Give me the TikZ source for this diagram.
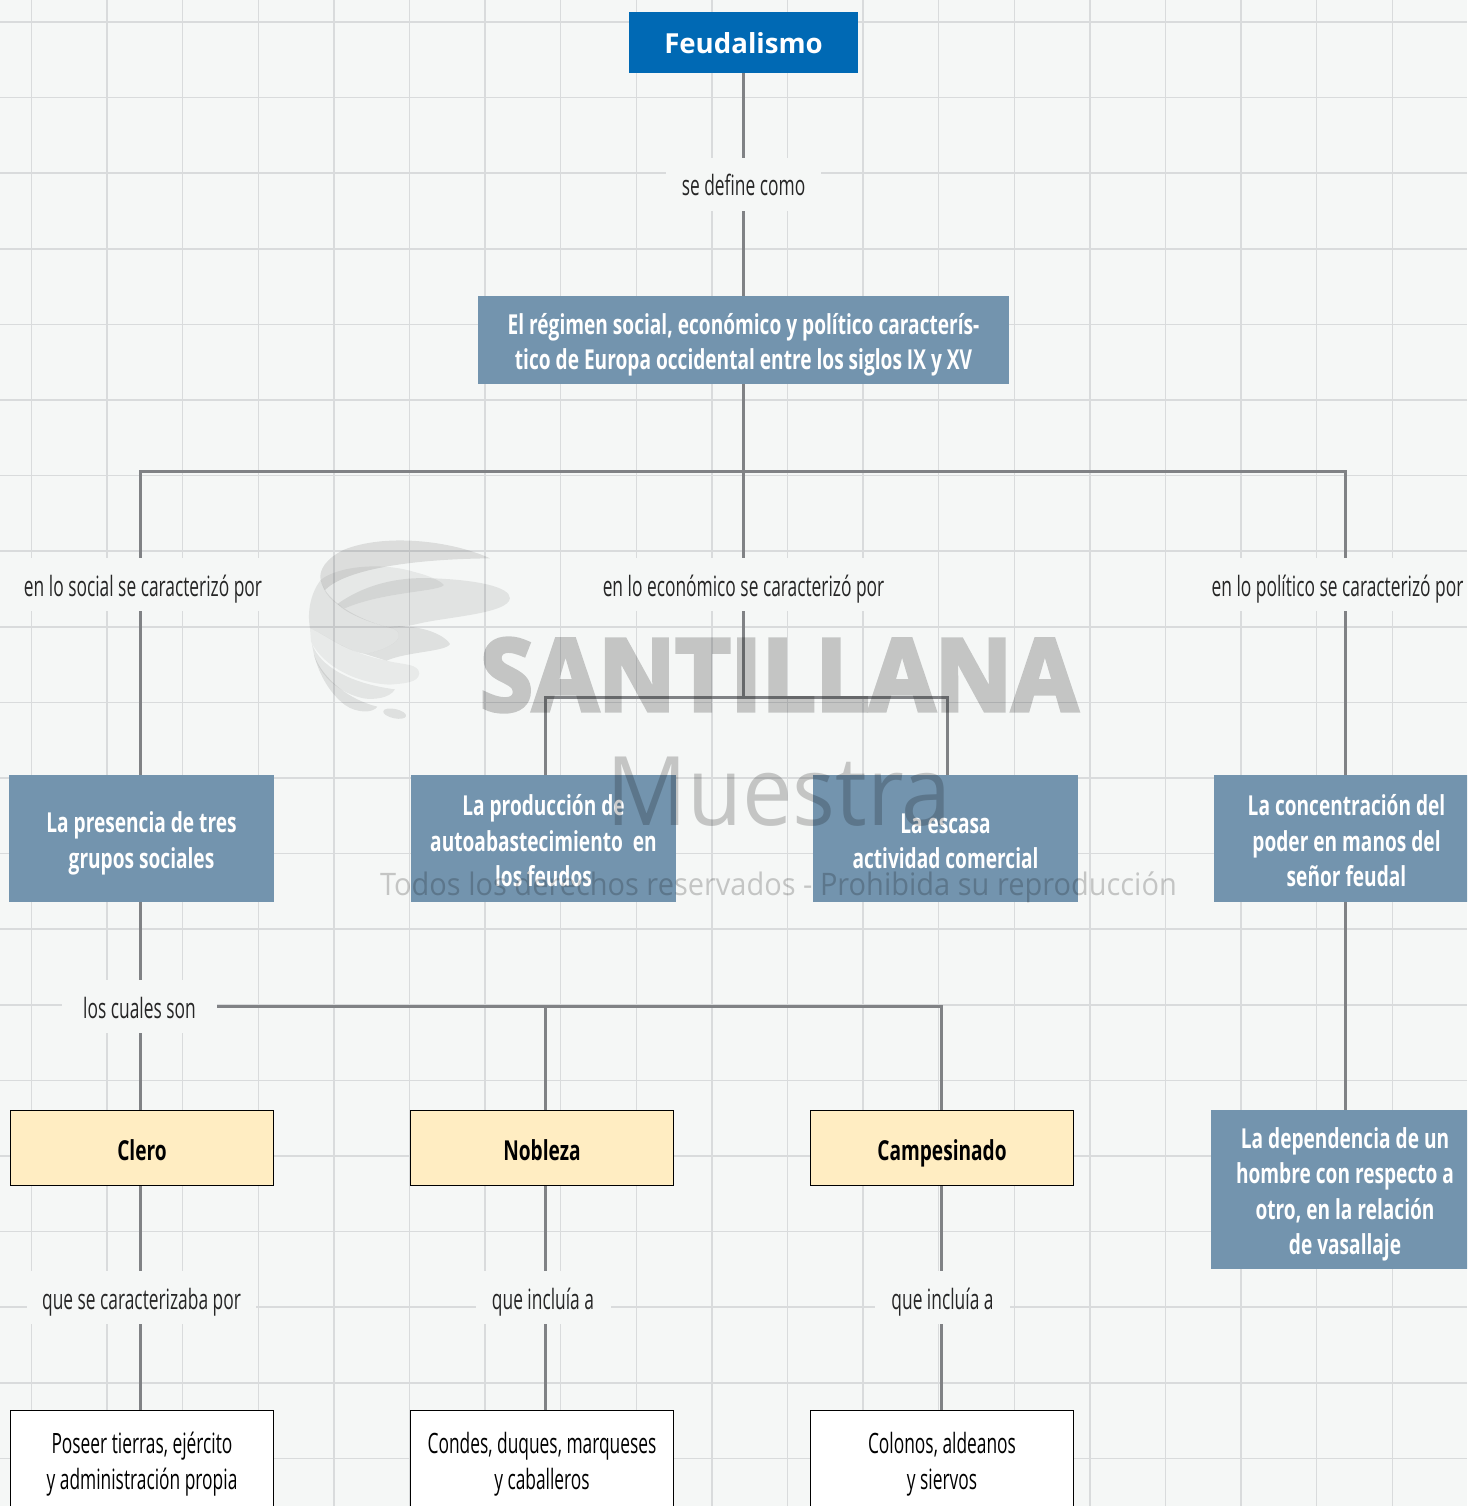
\documentclass[tikz,border=0pt]{standalone}
\usepackage{fontspec}
\setmainfont{Open Sans}[FakeStretch=0.62, BoldFeatures={FakeStretch=0.695}]
\newfontfamily\wmfont[FakeStretch=0.935]{Open Sans}
\newfontfamily\wmsant[FakeStretch=0.95, BoldFeatures={FakeStretch=0.95, FakeBold=4}]{Open Sans}
\newfontfamily\headfont{Open Sans}
\usepackage{xcolor}
\usetikzlibrary{positioning}

\definecolor{bgcol}{HTML}{F5F7F6}
\definecolor{gridcol}{HTML}{D9DBDC}
\definecolor{conncol}{HTML}{808285}
\definecolor{bluecol}{HTML}{0069B4}
\definecolor{steelcol}{HTML}{7394AE}
\definecolor{creamcol}{HTML}{FFEDC2}

% first line struts
\newcommand{\sgap}{\rule{0pt}{31pt}}
\newcommand{\wgap}{\rule{0pt}{27.5pt}}

\tikzset{
    conn/.style={draw=conncol, line width=3pt},
    lbl/.style={fill=bgcol, text=black!85, inner sep=0pt, minimum width=#1, minimum height=53pt,
        text height=29pt, text depth=6pt, font=\fontsize{28}{35}\selectfont},
    steelbox/.style={fill=steelcol, text=white, inner sep=0pt, align=center, minimum width=#1,
        execute at end node={\rule[-6pt]{0pt}{6pt}},
        font=\fontsize{27.5}{35.5}\selectfont\bfseries},
    creambox/.style={fill=creamcol, draw=black, line width=1pt, inner sep=0pt, minimum width=263pt,
        minimum height=75pt, text height=30pt, text depth=6pt, font=\fontsize{27.5}{35}\selectfont\bfseries},
    whitebox/.style={fill=white, draw=black, line width=1pt, inner sep=0pt, align=center,
        execute at end node={\rule[-6pt]{0pt}{6pt}},
        minimum width=263pt, minimum height=102pt, font=\fontsize{28}{35.5}\selectfont},
    logopart/.style={fill=black, fill opacity=#1},
    wmark/.style={text=black, text opacity=0.2, inner sep=0pt, font=\wmfont}
}

\begin{document}
\begin{tikzpicture}[x=1pt, y=-1pt]
    \useasboundingbox (0, 0) rectangle (1467, 1506);
    \clip (0, 0) rectangle (1467, 1506);
    \fill[bgcol] (0, 0) rectangle (1467, 1506);

    % Grid
    \foreach \k in {0,...,18} {
        \draw[gridcol, line width=1.5pt] (31.5+75.6*\k, 0) -- (31.5+75.6*\k, 1506);
    }
    \foreach \k in {0,...,19} {
        \draw[gridcol, line width=1.5pt] (0, 22+75.6*\k) -- (1467, 22+75.6*\k);
    }

    % Nodes
    \node[fill=bluecol, text=white, inner sep=0pt, minimum width=229pt, minimum height=61pt,
        text height=22pt, text depth=0pt,
        font=\headfont\fontsize{27.6}{35}\selectfont\bfseries] (feudal) at (743.5, 42.5) {Feudalismo};
    \node[lbl=155pt] (define) at (743.5, 184.5) {se define como};
    \node[steelbox=531pt, minimum height=88pt] (regimen) at (743.5, 340)
        {\sgap El régimen social, económico y político caracterís-\\tico de Europa occidental entre los siglos IX y XV};

    \node[lbl=265pt] (lsocial) at (143, 584.5) {en lo social se caracterizó por};
    \node[lbl=311pt] (lecon) at (743.5, 584.5) {en lo económico se caracterizó por};
    \node[lbl=283pt] (lpolit) at (1337.5, 584.5) {en lo político se caracterizó por};

    \node[steelbox=265pt, minimum height=127pt] (presencia) at (141.5, 838.5) {\sgap La presencia de tres\\grupos sociales};
    \node[steelbox=265pt, minimum height=127pt] (produccion) at (543.5, 838.5)
        {\sgap La producción de\\autoabastecimiento\ \ en\\los feudos};
    \node[steelbox=265pt, minimum height=127pt] (escasa) at (945.5, 838.5) {\sgap La escasa\\actividad comercial};
    \node[steelbox=265pt, minimum height=127pt] (concentra) at (1346.5, 838.5)
        {\sgap La concentración del\\poder en manos del\\señor feudal};

    \node[lbl=155pt] (lcuales) at (139.5, 1006.5) {los cuales son};
    \node[creambox] (clero) at (142, 1148) {Clero};
    \node[creambox] (nobleza) at (542, 1148) {Nobleza};
    \node[creambox] (campe) at (942, 1148) {Campesinado};
    \node[steelbox=268pt, minimum height=159pt] (depende) at (1345, 1189.5)
        {\sgap La dependencia de un\\hombre con respecto a\\otro, en la relación\\de vasallaje};

    \node[lbl=229pt] (lclero) at (141.5, 1297.5) {que se caracterizaba por};
    \node[lbl=135pt] (lnoble) at (543, 1297.5) {que incluía a};
    \node[lbl=135pt] (lcampe) at (942.5, 1297.5) {que incluía a};

    \node[whitebox] (poseer) at (142, 1461) {\wgap Poseer tierras, ejército\\y administración propia};
    \node[whitebox] (condes) at (542, 1461) {\wgap Condes, duques, marqueses\\y caballeros};
    \node[whitebox] (colonos) at (942, 1461) {\wgap Colonos, aldeanos\\y siervos};

    % Paths
    \coordinate (barl) at (140.5, 471);
    \coordinate (barm) at (743.5, 471);
    \coordinate (barr) at (1345.5, 471);
    \coordinate (ecom) at (743.5, 697);
    \coordinate (ecol) at (545, 697);
    \coordinate (ecor) at (947, 697);
    \coordinate (clnb) at (545, 1006.5);
    \coordinate (clcp) at (941, 1006.5);

    \draw[conn] (feudal.south) -- (define.north);
    \draw[conn] (define.south) -- (regimen.north);
    \draw[conn] (regimen.south) -- (barm);
    \draw[conn] (barm) -- (lecon.north);
    \draw[conn] (lsocial.north -| barl) -- (barl) -- (barr) -- (lpolit.north -| barr);
    \draw[conn] (lsocial.south -| barl) -- (presencia.north -| barl);
    \draw[conn] (lecon.south) -- (ecom);
    \draw[conn] (produccion.north -| ecol) -- (ecol) -- (ecor) -- (escasa.north -| ecor);
    \draw[conn] (lpolit.south -| barr) -- (concentra.north -| barr);
    \draw[conn] (concentra.south -| barr) -- (depende.north -| barr);
    \draw[conn] (presencia.south -| barl) -- (lcuales.north -| barl);
    \draw[conn] (lcuales.south -| barl) -- (clero.north -| barl);
    \draw[conn] (lcuales.east) -- (clcp) -- (campe.north -| clcp);
    \draw[conn] (clnb) -- (nobleza.north -| clnb);
    \draw[conn] (clero.south -| barl) -- (lclero.north -| barl);
    \draw[conn] (lclero.south -| barl) -- (poseer.north -| barl);
    \draw[conn] (nobleza.south -| clnb) -- (lnoble.north -| clnb);
    \draw[conn] (lnoble.south -| clnb) -- (condes.north -| clnb);
    \draw[conn] (campe.south -| clcp) -- (lcampe.north -| clcp);
    \draw[conn] (lcampe.south -| clcp) -- (colonos.north -| clcp);

    % Watermark
    \begin{scope}[opacity=0.2, transparency group]
        \node[text=black, inner sep=0pt, font=\wmsant\fontsize{100}{100}\selectfont\bfseries] (wsant) at (779, 675) {SANTILLANA};
    \end{scope}
    \node[wmark, font=\wmfont\fontsize{96}{96}\selectfont] (wmues) at (779, 792) {Muestra};
    \node[wmark, font=\wmfont\fontsize{31}{35}\selectfont] (wtodos) at (778.5, 887) {Todos los derechos reservados - Prohibida su reproducción};

    \begin{scope}[shift={(300, 530)}, x=0.3333pt, y=-0.3333pt]
        \path[logopart=0.1] (570,85) .. controls (450,30) and (250,10) .. (130,60)
            .. controls (80,85) and (55,120) .. (62,150) .. controls (70,175) and (75,180) .. (75,180)
            .. controls (130,125) and (300,88) .. (570,85) -- cycle;
        \path[logopart=0.06] (62,150) .. controls (110,110) and (240,95) .. (340,125)
            .. controls (380,135) and (420,150) .. (432,165) .. controls (420,185) and (250,185) .. (135,235)
            .. controls (100,220) and (70,190) .. (62,150) -- cycle;
        \path[logopart=0.08] (112,222) .. controls (200,160) and (300,140) .. (400,145)
            .. controls (530,150) and (630,170) .. (630,205) .. controls (625,250) and (450,260) .. (360,280)
            .. controls (320,290) and (290,292) .. (265,292) .. controls (200,275) and (140,250) .. (112,222) -- cycle;
        \path[logopart=0.08] (62,150) .. controls (35,185) and (20,240) .. (30,295)
            .. controls (70,310) and (130,360) .. (195,372) .. controls (240,365) and (300,340) .. (297,315)
            .. controls (295,300) and (280,295) .. (265,292) .. controls (180,270) and (80,220) .. (62,150) -- cycle;
        \path[logopart=0.09] (265,292) .. controls (350,280) and (430,310) .. (450,342)
            .. controls (440,365) and (320,365) .. (260,392) -- (195,372)
            .. controls (240,365) and (300,340) .. (297,315) .. controls (295,300) and (280,295) .. (265,292) -- cycle;
        \path[logopart=0.05] (30,295) .. controls (90,320) and (130,365) .. (260,392)
            .. controls (310,405) and (355,400) .. (358,430) .. controls (355,460) and (310,460) .. (270,464)
            .. controls (170,460) and (70,410) .. (33,335) -- cycle;
        \path[logopart=0.07] (35,340) .. controls (60,410) and (150,460) .. (285,478)
            .. controls (270,505) and (220,510) .. (190,505) .. controls (120,490) and (60,440) .. (42,375) -- cycle;
        \path[logopart=0.09] (42,375) .. controls (70,450) and (150,510) .. (232,530)
            .. controls (220,550) and (170,550) .. (135,525) .. controls (90,490) and (60,440) .. (42,375) -- cycle;
        \path[logopart=0.09, rotate around={-12:(284,551)}] (284,551) ellipse [x radius=35, y radius=14];
    \end{scope}
\end{tikzpicture}
\end{document}
